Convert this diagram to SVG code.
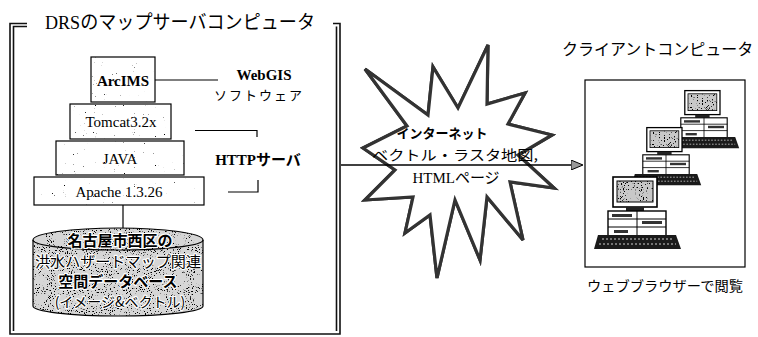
<svg xmlns="http://www.w3.org/2000/svg" xmlns:xlink="http://www.w3.org/1999/xlink" width="758" height="337" viewBox="0 0 758 337">
  <style>
    .box { fill: #fff; stroke: #000; stroke-width: 1.2; }
    .ln { fill: none; stroke: #000; stroke-width: 1.2; }
    .frame { fill: none; stroke: #111; stroke-width: 1.6; }
    .serif { font-family: "Liberation Serif", "Noto Sans CJK JP", serif; fill: #000; }
    .jp { font-family: "Noto Sans CJK JP", "Liberation Sans", sans-serif; fill: #000; }
    .halo { stroke: #fff; stroke-width: 2.2; paint-order: stroke; stroke-linejoin: round; }
    .title { font-family: "Liberation Serif", "Noto Sans CJK JP", serif; font-size: 19px; fill: #000; }
  </style>
  <defs>
    <!-- speckled print texture -->
    <filter id="grainDense" x="0" y="0" width="100%" height="100%">
      <feTurbulence type="fractalNoise" baseFrequency="0.95" numOctaves="1" seed="4" result="n"/>
      <feColorMatrix in="n" type="matrix" values="0 0 0 0 0  0 0 0 0 0  0 0 0 0 0  14 0 0 0 -8.6" result="dots"/>
      <feComposite in="dots" in2="SourceGraphic" operator="in"/>
    </filter>
    <filter id="grainLight" x="0" y="0" width="100%" height="100%">
      <feTurbulence type="fractalNoise" baseFrequency="0.9" numOctaves="1" seed="9" result="n"/>
      <feColorMatrix in="n" type="matrix" values="0 0 0 0 0  0 0 0 0 0  0 0 0 0 0  14 0 0 0 -10.2" result="dots"/>
      <feComposite in="dots" in2="SourceGraphic" operator="in"/>
    </filter>
    <marker id="arrowHead" viewBox="0 0 12 10" refX="11" refY="5" markerWidth="12" markerHeight="10" markerUnits="userSpaceOnUse" orient="auto">
      <path d="M0,0 L12,5 L0,10 Z" fill="#999" stroke="#000" stroke-width="1"/>
    </marker>
    <!-- desktop computer clip-art -->
    <symbol id="pc" overflow="visible">
      <rect x="21" y="2" width="44" height="30" fill="#fff" stroke="#000" stroke-width="1.6"/>
      <rect x="25" y="6" width="36" height="21" fill="#c8c8c8" stroke="#000" stroke-width="1"/>
      <rect x="25" y="6" width="36" height="21" fill="#000" filter="url(#grainDense)"/>
      <rect x="34" y="32" width="18" height="4" fill="#222"/>
      <rect x="16" y="36" width="58" height="26" fill="#fff" stroke="#000" stroke-width="1.4"/>
      <path d="M16,44 H74 M16,52 H74 M45,36 V62" stroke="#000" stroke-width="1" fill="none"/>
      <rect x="20" y="39" width="20" height="3" fill="#333"/>
      <rect x="50" y="46" width="20" height="3" fill="#333"/>
      <rect x="22" y="55" width="14" height="3" fill="#333"/>
      <polygon points="6,60 84,60 89,74 2,74" fill="#1a1a1a"/>
      <path d="M10,64 H80 M7,69 H84" stroke="#fff" stroke-width="0.8" stroke-dasharray="2 2"/>
    </symbol>
  </defs>

  <rect x="0" y="0" width="758" height="337" fill="#fff"/>

  <!-- server frame -->
  <g id="server-frame">
    <path class="frame" d="M27,23.5 H10 V334 H340 V23.5 H333"/>
    <path class="frame" d="M27,26.5 H13.5 V331" stroke-width="1"/>
    <path class="frame" d="M336.5,26.5 V331" stroke-width="1"/>
    <text class="title" x="45" y="29" textLength="270" lengthAdjust="spacingAndGlyphs">DRSのマップサーバコンピュータ</text>
  </g>

  <!-- software stack -->
  <g id="arcims">
    <rect class="box" x="91" y="57" width="64" height="45"/>
    <rect x="91" y="57" width="64" height="45" fill="#000" filter="url(#grainLight)"/>
    <text class="serif" x="123" y="86" font-size="15" font-weight="bold" text-anchor="middle">ArcIMS</text>
  </g>
  <g id="tomcat">
    <rect class="box" x="70" y="104" width="101" height="35"/>
    <rect x="70" y="104" width="101" height="35" fill="#000" filter="url(#grainLight)"/>
    <text class="serif" x="121" y="127" font-size="15" text-anchor="middle">Tomcat3.2x</text>
  </g>
  <g id="java">
    <rect class="box" x="56" y="141" width="128" height="34"/>
    <rect x="56" y="141" width="128" height="34" fill="#000" filter="url(#grainLight)"/>
    <text class="serif" x="120" y="164" font-size="15" text-anchor="middle">JAVA</text>
  </g>
  <g id="apache">
    <rect class="box" x="34" y="177" width="170" height="28"/>
    <rect x="34" y="177" width="170" height="28" fill="#000" filter="url(#grainLight)"/>
    <text class="serif" x="119" y="197" font-size="15" text-anchor="middle">Apache 1.3.26</text>
  </g>

  <!-- spatial database -->
  <g id="database">
    <path d="M33,240 V306 A85,10 0 0 0 203,306 V240 A85,12 0 0 0 33,240 Z" fill="#d6d6d6" stroke="#000" stroke-width="1.2"/>
    <path d="M33,240 V306 A85,10 0 0 0 203,306 V240 A85,12 0 0 0 33,240 Z" fill="#000" filter="url(#grainDense)"/>
    <path class="ln" d="M33,240 A85,10 0 0 0 203,240"/>
    <text class="jp halo" x="120" y="246" font-size="15" font-weight="bold" text-anchor="middle">名古屋市西区の</text>
    <text class="jp halo" x="118" y="267" font-size="15" text-anchor="middle" textLength="166" lengthAdjust="spacingAndGlyphs">洪水ハザードマップ関連</text>
    <text class="jp halo" x="118" y="287" font-size="15" font-weight="bold" text-anchor="middle">空間データベース</text>
    <text class="jp halo" x="120" y="307" font-size="14" text-anchor="middle">(イメージ&amp;ベクトル)</text>
  </g>

  <!-- labels -->
  <g id="webgis-label">
    <text class="serif" x="264" y="80" font-size="15" font-weight="bold" text-anchor="middle">WebGIS</text>
    <text class="jp" x="259" y="100" font-size="13" text-anchor="middle" letter-spacing="2">ソフトウェア</text>
  </g>
  <g id="http-label">
    <text class="serif" x="258" y="165" font-size="15" font-weight="bold" text-anchor="middle">HTTPサーバ</text>
  </g>

  <!-- internet burst -->
  <g id="internet">
    <polygon id="burst" points="488,45 487,104 525,93 508,124 552,135 518,155 554,188 510,182 523,240 487,197 480,260 455,200 437,278 430,215 405,233 413,197 365,200 395,170 363,148 407,126 365,69 428,115 433,67 458,108" fill="#fff" stroke="#333" stroke-width="3.2" stroke-linejoin="miter"/>
    <use xlink:href="#burst" fill="none" stroke="#fff" stroke-width="1.1"/>
    <text class="jp" x="442" y="138" font-size="13" font-weight="bold" text-anchor="middle">インターネット</text>
    <text class="jp" x="372" y="160" font-size="14" textLength="166" lengthAdjust="spacingAndGlyphs">ベクトル・ラスタ地図,</text>
    <text class="serif" x="456" y="183" font-size="15" text-anchor="middle">HTMLページ</text>
  </g>

  <!-- client -->
  <g id="client">
    <text class="jp" x="562" y="55" font-size="16">クライアントコンピュータ</text>
    <rect class="box" x="585" y="80" width="160" height="187"/>
    <use xlink:href="#pc" transform="translate(668,89) scale(0.8)"/>
    <use xlink:href="#pc" transform="translate(630,126) scale(0.8)"/>
    <use xlink:href="#pc" transform="translate(592,175)"/>
    <text class="jp" x="665" y="291" font-size="13.5" text-anchor="middle" textLength="156" lengthAdjust="spacingAndGlyphs">ウェブブラウザーで閲覧</text>
  </g>

  <!-- connectors -->
  <g id="connectors">
    <line class="ln" x1="155" y1="80" x2="218" y2="80"/>
    <path class="ln" d="M195,130.5 H257 V137"/>
    <path class="ln" d="M228,192 H258 V180"/>
    <line class="ln" x1="123" y1="205" x2="123" y2="228"/>
    <line x1="341" y1="165" x2="582" y2="165" stroke="#000" stroke-width="1.6" marker-end="url(#arrowHead)"/>
  </g>
</svg>
